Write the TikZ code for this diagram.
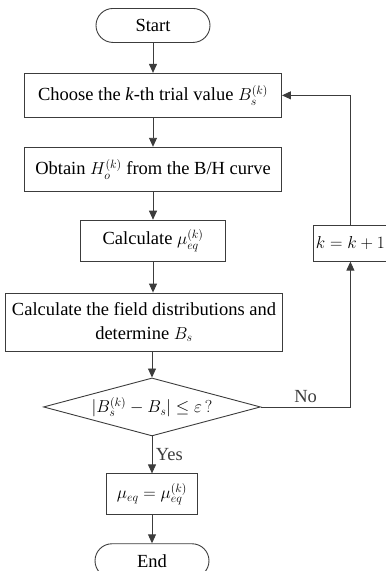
\documentclass[tikz,border=0pt]{standalone}
\usepackage{fontspec}
\setmainfont{Liberation Serif}
\usetikzlibrary{arrows.meta,positioning,shapes.geometric}
\definecolor{lineGray}{RGB}{60,60,60}

\begin{document}
\begin{tikzpicture}[x=1pt, y=1pt,
  font=\fontsize{18.5}{24}\selectfont,
  term/.style={draw=lineGray, line width=0.9pt, rounded corners=17pt,
               minimum width=114pt, minimum height=34pt, inner sep=2pt},
  proc/.style={draw=lineGray, line width=0.9pt, align=center,
               minimum height=44pt, inner sep=3pt},
  test/.style={draw=lineGray, line width=0.9pt, diamond, aspect=3.74,
               minimum width=217pt, minimum height=58pt, inner sep=0pt},
  arr/.style={-{Triangle[length=9pt, width=8pt]}, line width=0.9pt, color=lineGray}]
\useasboundingbox (0,0) rectangle (386,-571);
\node[term, anchor=north] (start) at (153,-8) {Start};
\node[proc, minimum width=257pt, below=30pt of start] (choose) {Choose the \textit{k}-th trial value $B_s^{(k)}$};
\node[proc, minimum width=257pt, below=29pt of choose] (obtain) {Obtain $H_o^{(k)}$ from the B/H curve};
\node[proc, minimum width=145pt, minimum height=41pt, below=28pt of obtain] (calcmu) {Calculate $\mu_{eq}^{(k)}$};
\node[proc, minimum width=277pt, minimum height=58pt, below=31pt of calcmu, xshift=-9pt] (field) {Calculate the field distributions and\\determine $B_s$};
\node[test, below=26pt of field, xshift=8pt] (check) {$\bigl| B_s^{(k)}-B_s\bigr|\le\varepsilon\,?$};
\node[proc, minimum width=91pt, minimum height=41pt, below=37pt of check] (result) {$\mu_{eq}=\mu_{eq}^{(k)}$};
\node[term, below=28pt of result] (stop) {End};
\node[proc, font=\fontsize{16}{19}\selectfont, minimum width=74pt, minimum height=36pt,
      inner sep=2pt, right=87pt of calcmu.south east, anchor=south west] (inc) {$k=k+1$};
% main column
\draw[arr] (start) -- (choose);
\draw[arr] (choose) -- (obtain);
\draw[arr] (obtain) -- (calcmu);
\draw[arr] (calcmu) -- (calcmu |- field.north);
\draw[arr] (check |- field.south) -- (check);
\draw[arr] (check) -- node[right, pos=0.5] (yeslbl) {Yes} (result);
\draw[arr] (result) -- (stop);
% loop back
\draw[arr] (check.east) -| node[pos=0.25, above] (nolbl) {No} (inc.south);
\draw[arr] (inc.north) |- (choose.east);
\end{tikzpicture}
\end{document}
